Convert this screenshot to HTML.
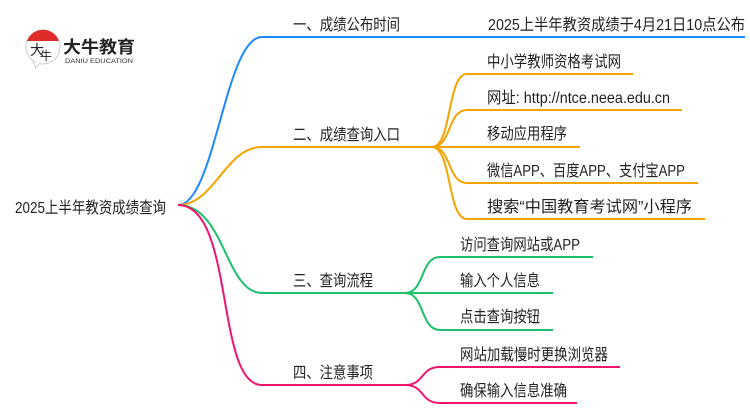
<!DOCTYPE html>
<html><head><meta charset="utf-8"><style>
html,body{margin:0;padding:0;background:#fff;}
svg{display:block;}
text{font-family:"Liberation Sans","Noto Sans CJK SC",sans-serif;fill:#222;}
</style></head><body>
<svg width="750" height="410" viewBox="0 0 750 410" xmlns="http://www.w3.org/2000/svg">
<!-- logo -->
<circle cx="43" cy="47" r="17" fill="#fff" stroke="#ccc" stroke-width="1"/>
<path d="M27,41 A17,17 0 0 1 59,41 Z" fill="#e02b2b"/>
<path d="M33,62 L36,68 L40,63" fill="#fff" stroke="#ccc" stroke-width="1"/>
<text x="30" y="55" font-size="14" style="fill:#222">大</text>
<text x="40" y="60" font-size="12" style="fill:#222">牛</text>
<text x="63" y="53" font-size="17" font-weight="bold" textLength="72" lengthAdjust="spacingAndGlyphs" style="fill:#222">大牛教育</text>
<text x="65" y="63" font-size="6" textLength="68" lengthAdjust="spacingAndGlyphs" style="fill:#333">DANIU EDUCATION</text>

<g fill="none" stroke-width="2">
<path d="M178,205 C215,205 225,37 262,37 L745,37" stroke="#1e88ff"/>
<path d="M178,205 C215,205 225,147 262,147 L432,147" stroke="#f5a300"/>
<path d="M432,147 C452,147 447,74 467,74 L633,74" stroke="#f5a300"/>
<path d="M432,147 C452,147 447,110 467,110 L682,110" stroke="#f5a300"/>
<path d="M432,147 L580,147" stroke="#f5a300"/>
<path d="M432,147 C452,147 447,183 467,183 L698,183" stroke="#f5a300"/>
<path d="M432,147 C452,147 447,219 467,219 L705,219" stroke="#f5a300"/>
<path d="M178,205 C225,205 225,293 262,293 L405,293" stroke="#1cbf6a"/>
<path d="M405,293 C425,293 420,257 440,257 L593,257" stroke="#1cbf6a"/>
<path d="M405,293 L553,293" stroke="#1cbf6a"/>
<path d="M405,293 C425,293 420,330 440,330 L553,330" stroke="#1cbf6a"/>
<path d="M178,205 C235,205 215,385 262,385 L405,385" stroke="#f0146e"/>
<path d="M405,385 C425,385 420,367 440,367 L620,367" stroke="#f0146e"/>
<path d="M405,385 C425,385 420,403 440,403 L577,403" stroke="#f0146e"/>
</g>

<g font-size="16" lengthAdjust="spacingAndGlyphs">
<text x="15" y="213" textLength="151" lengthAdjust="spacingAndGlyphs">2025上半年教资成绩查询</text>
<text x="293" y="30" textLength="107" lengthAdjust="spacingAndGlyphs">一、成绩公布时间</text>
<text x="488" y="30" textLength="257" lengthAdjust="spacingAndGlyphs">2025上半年教资成绩于4月21日10点公布</text>
<text x="293" y="140" textLength="107" lengthAdjust="spacingAndGlyphs">二、成绩查询入口</text>
<text x="487" y="67" textLength="134" lengthAdjust="spacingAndGlyphs">中小学教师资格考试网</text>
<text x="487" y="103" textLength="183" lengthAdjust="spacingAndGlyphs">网址: http://ntce.neea.edu.cn</text>
<text x="487" y="139" textLength="80" lengthAdjust="spacingAndGlyphs">移动应用程序</text>
<text x="487" y="176" textLength="198" lengthAdjust="spacingAndGlyphs">微信APP、百度APP、支付宝APP</text>
<text x="487" y="212" textLength="205" lengthAdjust="spacingAndGlyphs">搜索“中国教育考试网”小程序</text>
<text x="293" y="286" textLength="80" lengthAdjust="spacingAndGlyphs">三、查询流程</text>
<text x="460" y="250" textLength="120" lengthAdjust="spacingAndGlyphs">访问查询网站或APP</text>
<text x="460" y="286" textLength="80" lengthAdjust="spacingAndGlyphs">输入个人信息</text>
<text x="460" y="322" textLength="80" lengthAdjust="spacingAndGlyphs">点击查询按钮</text>
<text x="293" y="378" textLength="80" lengthAdjust="spacingAndGlyphs">四、注意事项</text>
<text x="460" y="360" textLength="148" lengthAdjust="spacingAndGlyphs">网站加载慢时更换浏览器</text>
<text x="460" y="396" textLength="107" lengthAdjust="spacingAndGlyphs">确保输入信息准确</text>
</g>
</svg>
</body></html>
